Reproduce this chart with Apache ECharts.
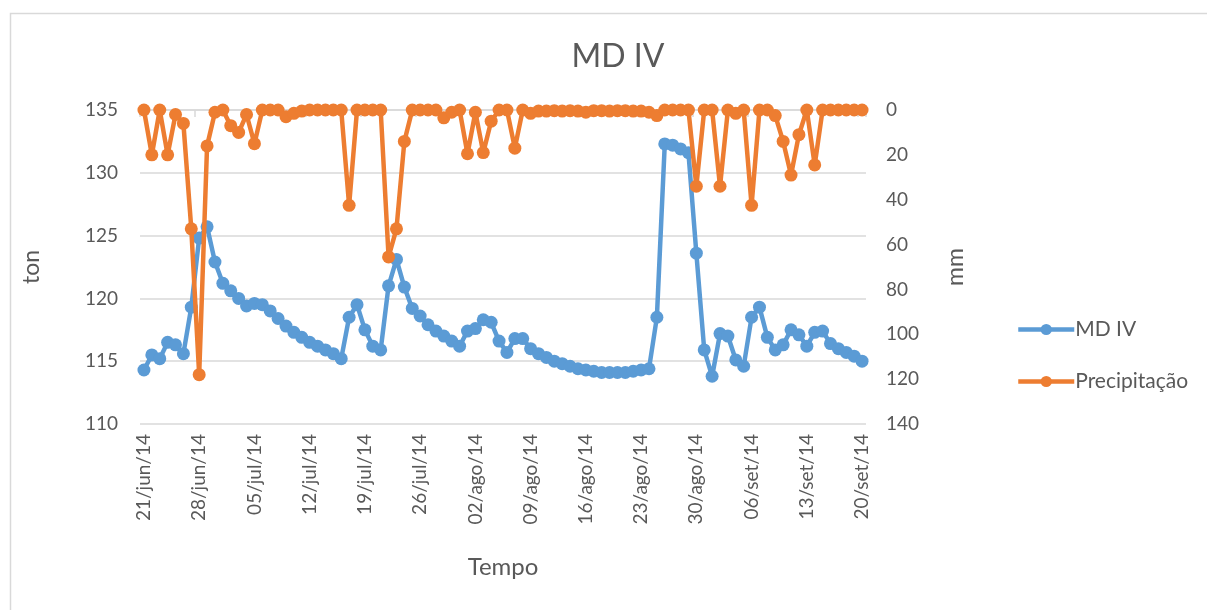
<!DOCTYPE html>
<html>
<head>
<meta charset="utf-8">
<script src="https://cdn.jsdelivr.net/npm/echarts@6/dist/echarts.min.js"></script>
<style>
html,body{margin:0;padding:0;background:#fff;}
#c{width:1207px;height:610px;}
</style>
</head>
<body>
<div id="c"></div>
<script>
// ---- data ----
const startDate = [2014, 5, 21]; // 21/jun/14 (month index 5 = June)
const monthNames = ['jan','fev','mar','abr','mai','jun','jul','ago','set','out','nov','dez'];
const dayCount = 92;

const mdIV = [
  114.3, 115.5, 115.2, 116.5, 116.3, 115.6, 119.3, 124.8, 125.7, 122.9,
  121.2, 120.6, 120.0, 119.4, 119.6, 119.5, 119.0, 118.4, 117.8, 117.3,
  116.9, 116.5, 116.2, 115.9, 115.6, 115.2, 118.5, 119.5, 117.5, 116.2,
  115.9, 121.0, 123.1, 120.9, 119.2, 118.6, 117.9, 117.4, 117.0, 116.6,
  116.2, 117.4, 117.6, 118.3, 118.1, 116.6, 115.7, 116.8, 116.8, 116.0,
  115.6, 115.3, 115.0, 114.8, 114.6, 114.4, 114.3, 114.2, 114.1, 114.1,
  114.1, 114.1, 114.2, 114.3, 114.4, 118.5, 132.3, 132.2, 131.9, 131.6,
  123.6, 115.9, 113.8, 117.2, 117.0, 115.1, 114.6, 118.5, 119.3, 116.9,
  115.9, 116.3, 117.5, 117.1, 116.2, 117.3, 117.4, 116.4, 116.0, 115.7,
  115.4, 115.0
];

const precipitacao = [
  0, 20, 0, 20, 2, 6, 53, 118, 16, 1,
  0, 7, 10, 2, 15, 0, 0, 0, 3, 1.5,
  0.5, 0, 0, 0, 0, 0, 42.5, 0, 0, 0,
  0, 65.5, 53, 14, 0, 0, 0, 0, 3.5, 1,
  0, 19.5, 1, 19, 5, 0, 0, 17, 0, 1.5,
  0.5, 0.5, 0.3, 0.5, 0.3, 0.5, 1, 0.3, 0.3, 0.5,
  0.3, 0.3, 0.5, 0.5, 1, 2.5, 0, 0, 0, 0,
  34, 0, 0, 34, 0, 1.5, 0, 42.5, 0, 0,
  2.5, 14, 29, 11, 0, 24.5, 0, 0, 0, 0,
  0, 0
];

const leftTicks = {min: 110, max: 135, interval: 5};
const rightTicks = {min: 0, max: 140, interval: 20};

// categories (dates)
const categories = [];
for (let i = 0; i < dayCount; i++) {
  const d = new Date(startDate[0], startDate[1], startDate[2] + i);
  const dd = String(d.getDate()).padStart(2, '0');
  categories.push(dd + '/' + monthNames[d.getMonth()] + '/' + String(d.getFullYear()).slice(2));
}

const FONT = 'Lato';
const TXT = '#595959';

const chart = echarts.init(document.getElementById('c'), null, {renderer: 'canvas'});
chart.setOption({
  animation: false,
  backgroundColor: '#fff',
  textStyle: {fontFamily: FONT},
  graphic: [{
    type: 'rect', left: 8, top: 11,
    shape: {width: 1250, height: 650},
    style: {fill: 'none', stroke: '#d9d9d9', lineWidth: 1.5},
    silent: true, z: -10
  }],
  title: {
    text: 'MD IV',
    left: 613, top: 36,
    textAlign: 'center',
    textStyle: {fontFamily: FONT, fontSize: 32, fontWeight: 'normal', color: TXT}
  },
  legend: {
    orient: 'vertical',
    left: 1011, top: 314,
    itemWidth: 56, itemHeight: 14,
    itemGap: 31,
    lineStyle: {width: 4.5},
    textStyle: {fontFamily: FONT, fontSize: 21, color: TXT, padding: [0, 0, 0, -4]},
    data: ['MD IV', 'Precipitação']
  },
  grid: {left: 140, right: 341, top: 110, bottom: 186, containLabel: false},
  xAxis: {
    type: 'category',
    data: categories,
    boundaryGap: true,
    name: 'Tempo',
    nameLocation: 'middle',
    nameGap: 131,
    nameTextStyle: {fontFamily: FONT, fontSize: 24, color: TXT},
    axisLine: {lineStyle: {color: '#d9d9d9', width: 1.5}},
    axisTick: {show: true, interval: 6, length: 7, lineStyle: {color: '#d9d9d9', width: 1.5}},
    axisLabel: {interval: 6, rotate: 90, fontFamily: FONT, fontSize: 19, color: TXT, margin: 10},
    splitLine: {show: false}
  },
  yAxis: [{
    type: 'value',
    min: leftTicks.min, max: leftTicks.max, interval: leftTicks.interval,
    name: 'ton',
    nameLocation: 'middle',
    nameGap: 97,
    nameRotate: 90,
    nameTextStyle: {fontFamily: FONT, fontSize: 23, color: TXT},
    axisLine: {show: false},
    axisTick: {show: false},
    axisLabel: {fontFamily: FONT, fontSize: 19, color: TXT, margin: 22},
    splitLine: {lineStyle: {color: '#d9d9d9', width: 1.5}}
  }, {
    type: 'value',
    inverse: true,
    min: rightTicks.min, max: rightTicks.max, interval: rightTicks.interval,
    name: 'mm',
    nameLocation: 'middle',
    nameGap: 78,
    nameRotate: 90,
    nameTextStyle: {fontFamily: FONT, fontSize: 23, color: TXT},
    axisLine: {show: false},
    axisTick: {show: false},
    axisLabel: {fontFamily: FONT, fontSize: 19, color: TXT, margin: 20},
    splitLine: {show: false}
  }],
  series: [{
    name: 'MD IV',
    type: 'line',
    yAxisIndex: 0,
    data: mdIV,
    symbol: 'circle',
    symbolSize: 13,
    showAllSymbol: true,
    lineStyle: {color: '#5B9BD5', width: 4.5},
    itemStyle: {color: '#5B9BD5'},
    z: 2
  }, {
    name: 'Precipitação',
    type: 'line',
    yAxisIndex: 1,
    data: precipitacao,
    symbol: 'circle',
    symbolSize: 13,
    showAllSymbol: true,
    lineStyle: {color: '#ED7D31', width: 4.5},
    itemStyle: {color: '#ED7D31'},
    z: 3
  }]
});
</script>
</body>
</html>
